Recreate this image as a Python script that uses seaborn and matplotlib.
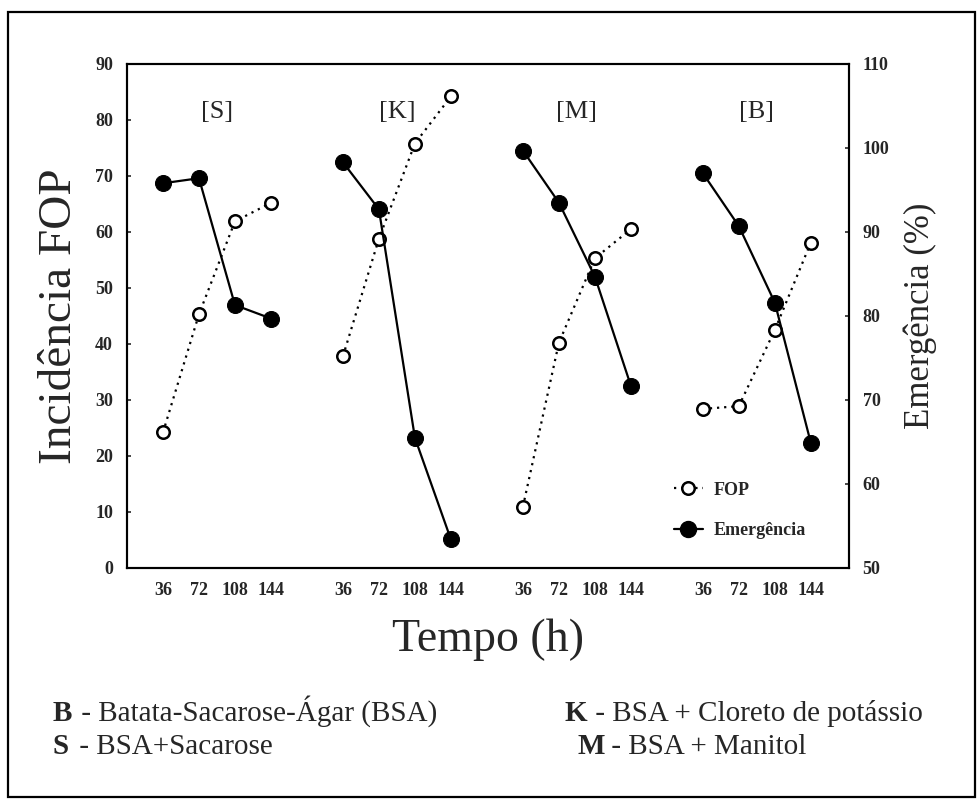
import pandas as pd
import numpy as np
import matplotlib
matplotlib.use("Agg")
import matplotlib.pyplot as plt
import seaborn as sns
from matplotlib.lines import Line2D
from matplotlib.patches import Rectangle

# data
grupos = ['S', 'K', 'M', 'B']
tempos = [36, 72, 108, 144]
fop_S = [24.2, 45.3, 61.9, 65.2]
fop_K = [37.8, 58.8, 75.8, 84.2]
fop_M = [10.9, 40.2, 55.3, 60.5]
fop_B = [28.4, 28.9, 42.5, 58.1]
emerg_S = [95.8, 96.4, 81.3, 79.7]
emerg_K = [98.3, 92.7, 65.5, 53.4]
emerg_M = [99.7, 93.5, 84.7, 71.7]
emerg_B = [97.0, 90.7, 81.6, 64.9]

fop = {'S': fop_S, 'K': fop_K, 'M': fop_M, 'B': fop_B}
emerg = {'S': emerg_S, 'K': emerg_K, 'M': emerg_M, 'B': emerg_B}

#each group is shifted by 180 h along the axis
GAP = 180
rows = []
for i, g in enumerate(grupos):
    for j, t in enumerate(tempos):
        rows.append({'grupo': g, 'tempo': t, 'pos': i * GAP + t,
                     'fop': fop[g][j], 'emerg': emerg[g][j]})
df = pd.DataFrame(rows)

sns.set_style('white')
plt.rcParams['font.family'] = ['Liberation Serif', 'DejaVu Serif']

fig = plt.figure(figsize=(9.79, 8.07), dpi=100)
ax = fig.add_axes([0.1297, 0.2962, 0.7373, 0.6245])
ax2 = ax.twinx()

sns.lineplot(data=df, x='pos', y='fop', units='grupo', estimator=None, ax=ax,
             color='black', linestyle=(0, (1, 2.2)), linewidth=1.6,
             marker='o', markersize=9, markerfacecolor='white',
             markeredgecolor='black', markeredgewidth=1.8)
sns.lineplot(data=df, x='pos', y='emerg', units='grupo', estimator=None, ax=ax2,
             color='black', linestyle='-', linewidth=1.6,
             marker='o', markersize=11.5, markerfacecolor='black',
             markeredgecolor='black')

ax.set_xlim(0, 722)
ax.set_ylim(0, 90)
ax2.set_ylim(50, 110)
ax.set_yticks(range(0, 91, 10))
ax2.set_yticks(range(50, 111, 10))
ax.set_xticks(df['pos'])
ax.set_xticklabels(df['tempo'])

for a in (ax, ax2):
    for s in a.spines.values():
        s.set_visible(True)
        s.set_linewidth(1.5)
        s.set_color('black')
ax.tick_params(axis='y', direction='in', length=3, width=1.2, labelsize=13, pad=10)
ax2.tick_params(axis='y', direction='in', length=3, width=1.2, labelsize=13, pad=10)
ax.tick_params(axis='x', length=0, labelsize=13, pad=10)
for lab in ax.get_xticklabels() + ax.get_yticklabels() + ax2.get_yticklabels():
    lab.set_fontweight('bold')

ax.set_xlabel('Tempo (h)', fontsize=33, labelpad=14)
ax.set_ylabel('Incidência FOP', fontsize=34, labelpad=10)
ax2.set_ylabel('Emergência (%)', fontsize=25, labelpad=10)

for i, g in enumerate(grupos):
    ax.text(i * GAP + 90, 81.5, '[' + g + ']', fontsize=19, ha='center', va='center')

handles = [
    Line2D([], [], color='black', linestyle=(0, (1, 2.2)), linewidth=1.6, marker='o',
           markersize=9, markerfacecolor='white', markeredgewidth=1.8),
    Line2D([], [], color='black', linestyle='-', linewidth=1.6, marker='o',
           markersize=11.5, markerfacecolor='black'),
]
ax.legend(handles, ['FOP', 'Emergência'], loc='lower left', bbox_to_anchor=(0.735, 0.025),
          frameon=False, handlelength=1.6, handletextpad=0.6, labelspacing=1.3,
          prop={'size': 13, 'weight': 'bold'})

#caption under the chart
fig.text(0.054, 0.107, 'B', fontsize=21, fontweight='bold')
fig.text(0.076, 0.107, ' - Batata-Sacarose-Ágar (BSA)', fontsize=21)
fig.text(0.054, 0.066, 'S', fontsize=21, fontweight='bold')
fig.text(0.074, 0.066, ' - BSA+Sacarose', fontsize=21)
fig.text(0.577, 0.107, 'K', fontsize=21, fontweight='bold')
fig.text(0.601, 0.107, ' - BSA + Cloreto de potássio', fontsize=21)
fig.text(0.590, 0.066, 'M', fontsize=21, fontweight='bold')
fig.text(0.617, 0.066, ' - BSA + Manitol', fontsize=21)

fig.patches.append(Rectangle((0.008, 0.012), 0.988, 0.973, transform=fig.transFigure,
                             fill=False, edgecolor='black', linewidth=1.6))

fig.savefig('out.png', dpi=100)
